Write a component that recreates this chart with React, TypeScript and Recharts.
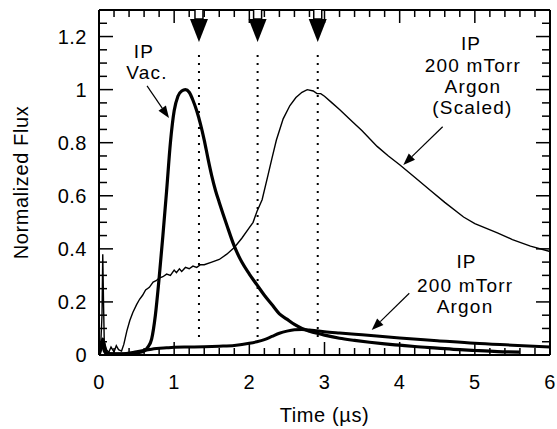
import React from 'react';
import { LineChart, Line, XAxis, YAxis, ReferenceLine, ReferenceDot } from 'recharts';

// ---- data (time in µs, normalized flux) ----
const vacT = [0, 0.03, 0.05, 0.08, 0.12, 0.3, 0.5, 0.6, 0.65, 0.7, 0.75, 0.8, 0.85, 0.9, 0.95, 1.0, 1.05, 1.1, 1.15, 1.2, 1.25, 1.3, 1.35, 1.4, 1.45, 1.5, 1.55, 1.6, 1.7, 1.8, 1.9, 2.0, 2.1, 2.2, 2.3, 2.4, 2.5, 2.6, 2.7, 2.8, 2.9, 3.0, 3.2, 3.4, 3.6, 3.8, 4.0, 4.2, 4.5, 4.8, 5.0, 5.3, 5.6];
const vacV = [0, 0.03, 0.06, 0.02, 0.005, 0.003, 0.008, 0.015, 0.03, 0.06, 0.15, 0.29, 0.45, 0.62, 0.8, 0.92, 0.975, 0.995, 1.0, 0.99, 0.96, 0.92, 0.87, 0.81, 0.74, 0.675, 0.62, 0.575, 0.49, 0.41, 0.35, 0.305, 0.265, 0.225, 0.19, 0.155, 0.135, 0.115, 0.1, 0.09, 0.082, 0.075, 0.063, 0.055, 0.048, 0.042, 0.037, 0.032, 0.026, 0.02, 0.017, 0.013, 0.011];

const lowT = [0, 0.04, 0.07, 0.1, 0.3, 0.5, 0.7, 0.9, 1.0, 1.2, 1.4, 1.6, 1.8, 2.0, 2.1, 2.2, 2.3, 2.4, 2.5, 2.6, 2.7, 2.8, 2.9, 3.0, 3.2, 3.5, 4.0, 4.5, 5.0, 5.5, 6.0];
const lowV = [0, 0.04, 0.015, 0.005, 0.005, 0.012, 0.022, 0.027, 0.029, 0.03, 0.031, 0.033, 0.036, 0.044, 0.05, 0.058, 0.07, 0.082, 0.09, 0.095, 0.096, 0.094, 0.091, 0.088, 0.083, 0.076, 0.064, 0.054, 0.044, 0.037, 0.03];

const scaledT = [0, 0.02, 0.04, 0.05, 0.06, 0.07, 0.1, 0.13, 0.16, 0.2, 0.23, 0.26, 0.3, 0.33, 0.37, 0.41, 0.45, 0.5, 0.54, 0.58, 0.62, 0.67, 0.72, 0.76, 0.8, 0.85, 0.9, 0.95, 1.0, 1.03, 1.07, 1.1, 1.15, 1.2, 1.25, 1.3, 1.35, 1.4, 1.5, 1.6, 1.7, 1.8, 1.9, 2.0, 2.05, 2.1, 2.17, 2.25, 2.3, 2.36, 2.45, 2.54, 2.62, 2.7, 2.77, 2.85, 2.9, 2.95, 3.0, 3.1, 3.2, 3.34, 3.5, 3.7, 3.85, 4.0, 4.2, 4.41, 4.6, 4.85, 5.0, 5.3, 5.5, 5.74, 6.0];
const scaledV = [0, 0.02, 0.15, 0.38, 0.2, 0.05, 0.02, 0.01, 0.03, 0.012, 0.035, 0.02, 0.015, 0.04, 0.09, 0.13, 0.16, 0.19, 0.21, 0.225, 0.245, 0.255, 0.275, 0.28, 0.29, 0.295, 0.305, 0.3, 0.32, 0.31, 0.325, 0.315, 0.33, 0.325, 0.335, 0.33, 0.34, 0.34, 0.35, 0.36, 0.38, 0.405, 0.44, 0.48, 0.5, 0.54, 0.585, 0.68, 0.74, 0.81, 0.89, 0.94, 0.97, 0.99, 1.0, 0.995, 0.985, 0.985, 0.975, 0.95, 0.925, 0.887, 0.845, 0.786, 0.75, 0.717, 0.67, 0.62, 0.575, 0.52, 0.495, 0.46, 0.435, 0.41, 0.39];

const xTicks = [0, 0.2, 0.4, 0.6, 0.8, 1, 1.2, 1.4, 1.6, 1.8, 2, 2.2, 2.4, 2.6, 2.8, 3, 3.2, 3.4, 3.6, 3.8, 4, 4.2, 4.4, 4.6, 4.8, 5, 5.2, 5.4, 5.6, 5.8, 6];
const xMajor = [0, 1, 2, 3, 4, 5, 6];
const yTicks = [0, 0.05, 0.1, 0.15, 0.2, 0.25, 0.3, 0.35, 0.4, 0.45, 0.5, 0.55, 0.6, 0.65, 0.7, 0.75, 0.8, 0.85, 0.9, 0.95, 1, 1.05, 1.1, 1.15, 1.2, 1.25];
const yMajor = [0, 0.2, 0.4, 0.6, 0.8, 1, 1.2];
const yLabels = ['0', '0.2', '0.4', '0.6', '0.8', '1', '1.2'];

const markerTimes = [1.33, 2.11, 2.91];

const annotations = [
  { x: 0.599, y: 1.12, text: 'IP' },
  { x: 0.638, y: 1.039, text: 'Vac.' },
  { x: 4.95, y: 1.149, text: 'IP' },
  { x: 4.975, y: 1.067, text: '200 mTorr' },
  { x: 4.975, y: 0.986, text: 'Argon' },
  { x: 4.968, y: 0.908, text: '(Scaled)' },
  { x: 4.89, y: 0.326, text: 'IP' },
  { x: 4.87, y: 0.239, text: '200 mTorr' },
  { x: 4.87, y: 0.158, text: 'Argon' },
];

const pointers = [
  { x1: 0.639, y1: 1.014, x2: 0.931, y2: 0.893 },
  { x1: 4.572, y1: 0.86, x2: 4.048, y2: 0.716 },
  { x1: 4.128, y1: 0.2325, x2: 3.628, y2: 0.094 },
];

const vacData = vacT.map((t, i) => ({ t, v: vacV[i] }));
const lowData = lowT.map((t, i) => ({ t, v: lowV[i] }));
const scaledData = scaledT.map((t, i) => ({ t, v: scaledV[i] }));

const FONT = '"Liberation Sans", Arial, Helvetica, sans-serif';
const near = (a: number, arr: number[]) => arr.findIndex((m) => Math.abs(m - a) < 1e-6);

const BottomTick = (p: any) => {
  const mi = near(p.payload.value, xMajor);
  const major = mi >= 0;
  return (
    <g>
      <path d={`M${p.x},${p.y}L${p.x},${p.y - (major ? 13 : 7)}`} stroke="#000" strokeWidth={1.5} fill="none" />
      {major && (
        <text x={p.x} y={p.y + 34} textAnchor="middle" fontFamily={FONT} fontSize={20} letterSpacing={0.5} fill="#000">
          {String(xMajor[mi])}
        </text>
      )}
    </g>
  );
};
const TopTick = (p: any) => {
  const major = near(p.payload.value, xMajor) >= 0;
  return <path d={`M${p.x},${p.y}L${p.x},${p.y + (major ? 13 : 7)}`} stroke="#000" strokeWidth={1.5} fill="none" />;
};
const LeftTick = (p: any) => {
  const mi = near(p.payload.value, yMajor);
  const major = mi >= 0;
  return (
    <g>
      <path d={`M${p.x},${p.y}L${p.x + (major ? 14 : 8)},${p.y}`} stroke="#000" strokeWidth={1.5} fill="none" />
      {major && (
        <text x={p.x - 12} y={p.y + 7} textAnchor="end" fontFamily={FONT} fontSize={20} letterSpacing={0.5} fill="#000">
          {yLabels[mi]}
        </text>
      )}
    </g>
  );
};
const RightTick = (p: any) => {
  const major = near(p.payload.value, yMajor) >= 0;
  return <path d={`M${p.x},${p.y}L${p.x - (major ? 14 : 8)},${p.y}`} stroke="#000" strokeWidth={1.5} fill="none" />;
};

const TopArrow = (p: any) => {
  const { cx, cy } = p;
  return (
    <g>
      <path d={`M${cx - 4},${cy}L${cx - 4},${cy + 9}L${cx + 4},${cy + 9}L${cx + 4},${cy}`} fill="#fff" stroke="#000" strokeWidth={1.5} />
      <path d={`M${cx - 9},${cy + 9}L${cx + 9},${cy + 9}L${cx},${cy + 32}Z`} fill="#000" stroke="none" />
    </g>
  );
};

const Pointer = (p: any) => {
  const { x1, y1, x2, y2 } = p;
  if ([x1, y1, x2, y2].some((n) => typeof n !== 'number' || isNaN(n))) return null;
  const dx = x2 - x1, dy = y2 - y1;
  const L = Math.sqrt(dx * dx + dy * dy);
  const ux = dx / L, uy = dy / L;
  const hl = 12, hw = 4.5;
  const bx = x2 - ux * hl, by = y2 - uy * hl;
  return (
    <g>
      <path d={`M${x1},${y1}L${bx},${by}`} stroke="#000" strokeWidth={1.2} fill="none" />
      <path d={`M${x2},${y2}L${bx - uy * hw},${by + ux * hw}L${bx + uy * hw},${by - ux * hw}Z`} fill="#000" stroke="none" />
    </g>
  );
};

const makeText = (text: string) => (p: any) => (
  <text x={p.cx} y={p.cy} textAnchor="middle" fontFamily={FONT} fontSize={19} letterSpacing={1.2} fill="#000">
    {text}
  </text>
);

export default function App() {
  return (
    <div style={{ position: 'absolute', left: 0, top: 0, background: '#fff' }}>
      <LineChart width={557} height={429} margin={{ top: 9, right: 6, bottom: 0, left: 0 }}>
        <XAxis
          dataKey="t"
          type="number"
          domain={[0, 6]}
          ticks={xTicks}
          interval={0}
          height={74}
          tickSize={0}
          tickMargin={0}
          tickLine={false}
          axisLine={{ stroke: '#000', strokeWidth: 2 }}
          tick={BottomTick}
          allowDataOverflow
          label={{
            content: (lp: any) => {
              const vb = lp.viewBox || {};
              return (
                <text x={vb.x + vb.width / 2} y={vb.y + 67} textAnchor="middle" fontFamily={FONT} fontSize={20} letterSpacing={0.6} fill="#000">
                  Time (µs)
                </text>
              );
            },
          }}
        />
        <XAxis
          xAxisId="top"
          dataKey="t"
          orientation="top"
          type="number"
          domain={[0, 6]}
          ticks={xTicks}
          interval={0}
          height={1}
          tickSize={0}
          tickMargin={0}
          tickLine={false}
          axisLine={{ stroke: '#000', strokeWidth: 2 }}
          tick={TopTick}
          allowDataOverflow
        />
        <YAxis
          type="number"
          domain={[0, 1.3]}
          ticks={yTicks}
          interval={0}
          width={99}
          tickSize={0}
          tickMargin={0}
          tickLine={false}
          axisLine={{ stroke: '#000', strokeWidth: 2 }}
          tick={LeftTick}
          allowDataOverflow
          label={{
            content: (lp: any) => {
              const vb = lp.viewBox || {};
              const cy = vb.y + vb.height / 2;
              return (
                <text x={21} y={cy} transform={`rotate(-90 21 ${cy})`} textAnchor="middle" dominantBaseline="central" fontFamily={FONT} fontSize={20} letterSpacing={0.6} fill="#000">
                  Normalized Flux
                </text>
              );
            },
          }}
        />
        <YAxis
          yAxisId="right"
          orientation="right"
          type="number"
          domain={[0, 1.3]}
          ticks={yTicks}
          interval={0}
          width={1}
          tickSize={0}
          tickMargin={0}
          tickLine={false}
          axisLine={{ stroke: '#000', strokeWidth: 2 }}
          tick={RightTick}
          allowDataOverflow
        />

        {markerTimes.map((m) => (
          <ReferenceLine
            key={'d' + m}
            segment={[{ x: m, y: 0.068 }, { x: m, y: 1.15 }]}
            stroke="#000"
            strokeWidth={2}
            strokeDasharray="2 6"
          />
        ))}

        {/* invisible copy bound to the top/right frame axes so they get a scale */}
        <Line xAxisId="top" yAxisId="right" data={scaledData} dataKey="v" type="linear" stroke="none" dot={false} isAnimationActive={false} />

        <Line data={scaledData} dataKey="v" type="linear" stroke="#000" strokeWidth={1.4} dot={false} isAnimationActive={false} />
        <Line data={lowData} dataKey="v" type="monotone" stroke="#000" strokeWidth={3} dot={false} isAnimationActive={false} />
        <Line data={vacData} dataKey="v" type="monotone" stroke="#000" strokeWidth={3.2} dot={false} isAnimationActive={false} />

        {markerTimes.map((m) => (
          <ReferenceDot key={'a' + m} x={m} y={1.3} shape={TopArrow} ifOverflow="visible" />
        ))}

        {pointers.map((p, i) => (
          <ReferenceLine
            key={'p' + i}
            segment={[{ x: p.x1, y: p.y1 }, { x: p.x2, y: p.y2 }]}
            shape={Pointer}
          />
        ))}

        {annotations.map((a, i) => (
          <ReferenceDot key={'t' + i} x={a.x} y={a.y} shape={makeText(a.text)} ifOverflow="visible" />
        ))}
      </LineChart>
    </div>
  );
}
